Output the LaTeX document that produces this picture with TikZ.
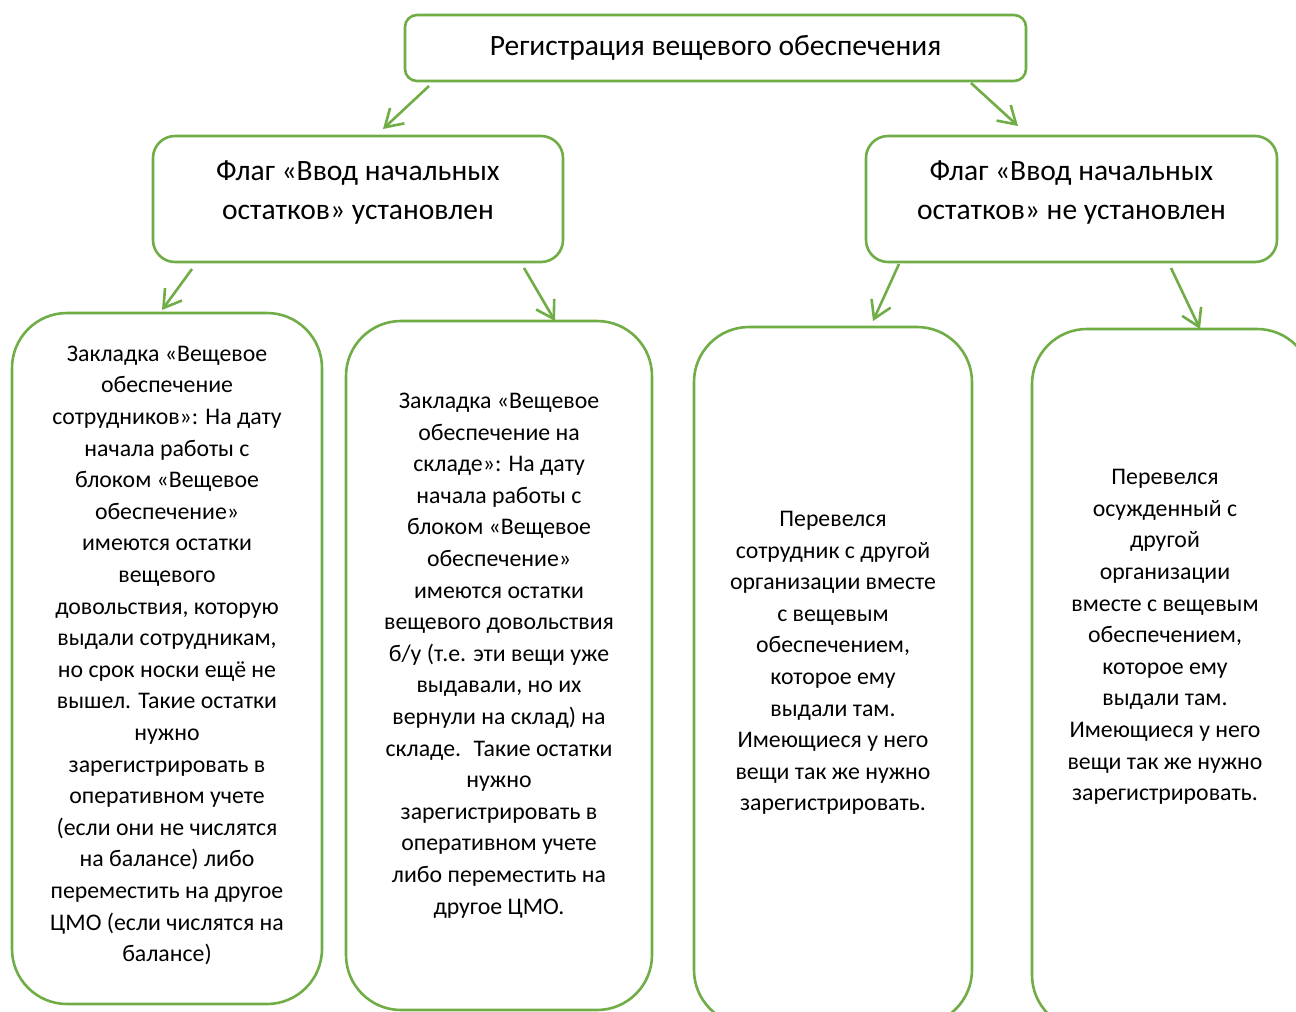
\documentclass[tikz,border=0pt]{standalone}
\usepackage{fontspec}
\setmainfont{Carlito}
\usepackage{tikz}
\usetikzlibrary{arrows.meta,positioning}
\definecolor{leaf}{HTML}{70AD47}

\begin{document}
\begin{tikzpicture}[
				x=1pt,y=-1pt,
				every node/.style={font=\fontsize{29.5}{39}\selectfont,text=black},
				head/.style={draw=leaf,line width=2.6pt,rounded corners=12pt,fill=white,
						align=center,minimum width=621pt,minimum height=66pt},
				flag/.style={draw=leaf,line width=2.6pt,rounded corners=22pt,fill=white,
						align=center,minimum width=410pt,minimum height=126pt,text depth=18pt},
				card/.style={draw=leaf,line width=2.6pt,rounded corners=55pt,fill=white},
				cardtext/.style={align=center,font=\fontsize{23.8}{31.6}\selectfont},
				flow/.style={-{Straight Barb[length=17pt,width=21pt]},line width=2.6pt,leaf}]

				\useasboundingbox (0,0) rectangle (1296,1012);
				\clip (0,0) rectangle (1296,1012);

				\node[head] (reg) at (715.5,48) {Регистрация вещевого обеспечения};
				\node[flag] (yes) at (358,199) {Флаг «Ввод начальных\\остатков» установлен};
				\node[flag,minimum width=411pt] (no) at (1071.5,199)
				{Флаг «Ввод начальных\\остатков» не установлен};

				% lower cards
				\node[card,minimum width=310pt,minimum height=691pt] (c1) at (167,658.5) {};
				\node[card,minimum width=306pt,minimum height=689pt] (c2) at (499,665.5) {};
				\node[card,minimum width=278pt,minimum height=698pt] (c3) at (833,676) {};
				\node[card,minimum width=280pt,minimum height=701pt] (c4) at (1172,679.5) {};

				\node[cardtext] (t1) at (167,655.5) {Закладка «Вещевое\\обеспечение\\сотрудников»: На дату\\начала работы с\\блоком «Вещевое\\обеспечение»\\имеются остатки\\вещевого\\довольствия, которую\\выдали сотрудникам,\\но срок носки ещё не\\вышел. Такие остатки\\нужно\\зарегистрировать в\\оперативном учете\\(если они не числятся\\на балансе) либо\\переместить на другое\\ЦМО (если числятся на\\балансе)};
				\node[cardtext] (t2) at (499,655.5) {Закладка «Вещевое\\обеспечение на\\складе»: На дату\\начала работы с\\блоком «Вещевое\\обеспечение»\\имеются остатки\\вещевого довольствия\\б/у (т.е. эти вещи уже\\выдавали, но их\\вернули на склад) на\\складе.~ Такие остатки\\нужно\\зарегистрировать в\\оперативном учете\\либо переместить на\\другое ЦМО.};
				\node[cardtext] (t3) at (833,663) {Перевелся\\сотрудник с другой\\организации вместе\\с вещевым\\обеспечением,\\которое ему\\выдали там.\\Имеющиеся у него\\вещи так же нужно\\зарегистрировать.};
				\node[cardtext] (t4) at (1165,637) {Перевелся\\осужденный с\\другой\\организации\\вместе с вещевым\\обеспечением,\\которое ему\\выдали там.\\Имеющиеся у него\\вещи так же нужно\\зарегистрировать.};

				% arrow ends sit a little off the boxes
				\coordinate (a1) at (429,86);  \coordinate (b1) at (383,129);
				\coordinate (a2) at (971,83);  \coordinate (b2) at (1018,126);
				\coordinate (a3) at (192,269); \coordinate (b3) at (162,310);
				\coordinate (a4) at (524,268); \coordinate (b4) at (555,321);
				\coordinate (a5) at (899,264); \coordinate (b5) at (873,321);
				\coordinate (a6) at (1171,268); \coordinate (b6) at (1200,329);

				\draw[flow] (a1) -- (b1);
				\draw[flow] (a2) -- (b2);
				\draw[flow] (a3) -- (b3);
				\draw[flow] (a4) -- (b4);
				\draw[flow] (a5) -- (b5);
				\draw[flow] (a6) -- (b6);
			\end{tikzpicture}
\end{document}
